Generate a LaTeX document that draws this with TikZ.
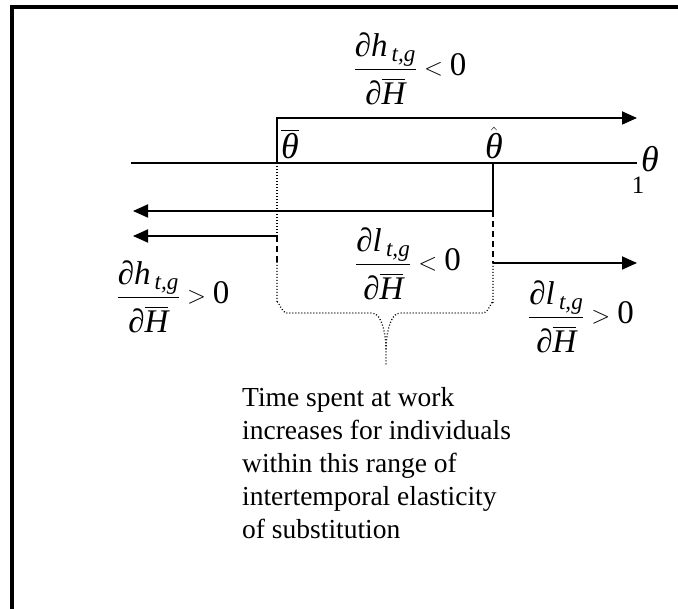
\documentclass[tikz,border=0pt]{standalone}
\usepackage{amsmath}
\usepackage{fontspec}
\setmainfont{Liberation Serif}
\usetikzlibrary{arrows.meta}
\newcommand\mi[1]{\text{\itshape #1}}
\newcommand\dH{\rule{0pt}{0.95em}\mi{∂}\overline{\mi{H}}}
\newcommand\sub[1]{_{\,\mi{#1}}}
\begin{document}
\begin{tikzpicture}[x=1pt,y=-1pt,
  ln/.style={line width=1.8pt},
  arr/.style={ln,-{Triangle[length=15pt,width=13pt]}},
  dots/.style={line width=1.3pt,dash pattern=on 1pt off 2pt},
  dsh/.style={line width=1.5pt,dash pattern=on 6pt off 4pt},
  lab/.style={inner sep=0pt,font=\fontsize{33}{38}\selectfont},
  gr/.style={inner sep=0pt,font=\fontsize{36}{40}\selectfont},
  txt/.style={inner sep=0pt,align=left,anchor=north west,font=\fontsize{27.5}{33}\selectfont}]
\useasboundingbox (0,0) rectangle (678,609);
% frame
\draw[line width=4pt] (12,609) -- (12,7) -- (678,7);
% axis
\coordinate (axL) at (131,163);
\coordinate (axR) at (637,163);
\draw[ln] (axL) -- (axR);
\node[gr,anchor=base west] (th) at (641,172) {\mi{θ}};
\node[inner sep=0pt,font=\fontsize{25}{28}\selectfont] (one) at (638,185) {1};
% points
\coordinate (tb) at (277,163);
\coordinate (thh) at (493,163);
\node[gr,anchor=base west] (tbl) at (281,159) {$\overline{\mi{θ}}$};
\node[gr,anchor=base] (thl) at (494,159) {$\hat{\mi{θ}}$};
% top arrow
\coordinate (tbTop) at (277,118);
\coordinate (topEnd) at (637,118);
\draw[arr] (tb) -- (tbTop) -- (topEnd);
% hat arrow to left
\coordinate (hBot) at (493,211);
\coordinate (leftEnd1) at (133,211);
\draw[arr] (thh) -- (hBot) -- (leftEnd1);
% second left arrow
\coordinate (tbA2) at (277,236);
\coordinate (leftEnd2) at (133,236);
\draw[arr] (tbA2) -- (leftEnd2);
% dotted vertical
\draw[dots] (tb) -- (tbA2);
% dashed pieces
\coordinate (lD) at (277,262);
\coordinate (rD) at (493,263);
\draw[dsh] (tbA2) -- (lD);
\draw[dsh] (hBot) -- (rD);
% right arrow
\coordinate (rightEnd) at (637,263);
\draw[arr] (rD) -- (rightEnd);
% brace
\coordinate (tip) at (386,365);
\draw[dots] (lD) -- (277,303) to[out=90,in=180,looseness=1] (287,313) -- (372,313)
   .. controls (382,313) and (386,335) .. (386,350) -- (tip);
\draw[dots] (rD) -- (493,303) to[out=90,in=0,looseness=1] (483,313) -- (400,313)
   .. controls (390,313) and (386,335) .. (386,350);
% labels
\node[lab] (top) at (410,69) {$\dfrac{\mi{∂h}\sub{t,g}}{\dH}\mathrel{<}\text{0}$};
\node[lab] (lft) at (173,297) {$\dfrac{\mi{∂h}\sub{t,g}}{\dH}\mathrel{>}\text{0}$};
\node[lab] (mid) at (408,264) {$\dfrac{\mi{∂l}\sub{t,g}}{\dH}\mathrel{<}\text{0}$};
\node[lab] (rgt) at (581,317) {$\dfrac{\mi{∂l}\sub{t,g}}{\dH}\mathrel{>}\text{0}$};
% text
\node[txt] (note) at (242,387) {Time spent at work\\increases for individuals\\within this range of\\intertemporal elasticity\\of substitution};
\end{tikzpicture}
\end{document}
